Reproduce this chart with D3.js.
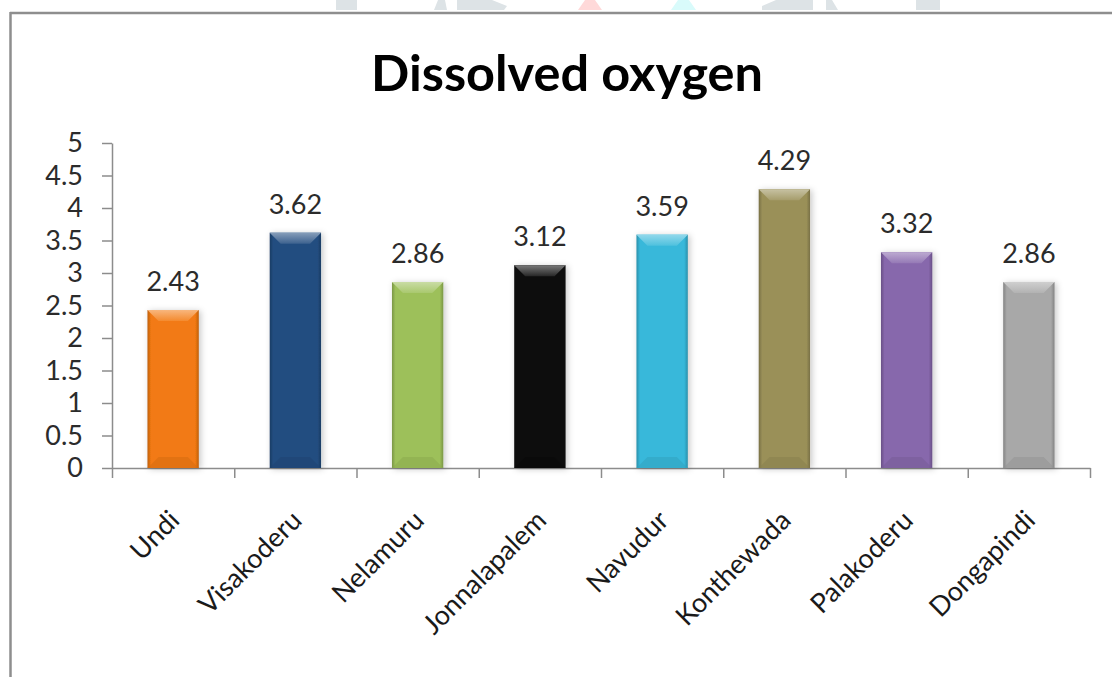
<!DOCTYPE html>
<html>
<head>
<meta charset="utf-8">
<script src="https://cdn.jsdelivr.net/npm/d3@7"></script>
<style>
  html, body { margin: 0; padding: 0; background: #fff; }
  svg { display: block; }
  text { font-family: Lato, "Open Sans", sans-serif; }
</style>
</head>
<body>
<svg id="chart" width="1112" height="677"></svg>
<script>
// Dissolved oxygen by sampling station
const categories = ["Undi", "Visakoderu", "Nelamuru", "Jonnalapalem", "Navudur", "Konthewada", "Palakoderu", "Dongapindi"];
const values = [2.43, 3.62, 2.86, 3.12, 3.59, 4.29, 3.32, 2.86];
const barColors = ["#F27A12", "#234D80", "#9DC05A", "#0B0B0B", "#37B8DA", "#9A9058", "#8767AC", "#A8A8A8"];
const yTicks = [0, 0.5, 1, 1.5, 2, 2.5, 3, 3.5, 4, 4.5, 5];
const title = "Dissolved oxygen";

const svg = d3.select("#chart");
const W = 1112, H = 677;
const plot = { left: 112, right: 1090, top: 143, bottom: 468 };

svg.append("rect").attr("width", W).attr("height", H).attr("fill", "#fff");

// faint logo fragments peeking above the frame
const logoBits = [
  { pts: [[336,0],[357,0],[357,10],[336,10]], fill: "#DDE3E6" },
  { pts: [[438,0],[445,0],[447,10],[434,10]], fill: "#DDE3E6" },
  { pts: [[457,0],[492,0],[507,6],[504,10],[457,10]], fill: "#DDE3E6" },
  { pts: [[585,0],[595,0],[602,10],[578,10]], fill: "#FFD9D9" },
  { pts: [[678,0],[689,0],[696,10],[671,10]], fill: "#D9FBFB" },
  { pts: [[776,0],[813,0],[813,10],[762,10],[762,6]], fill: "#DDE3E6" },
  { pts: [[826,0],[832,0],[838,10],[826,10]], fill: "#DDE3E6" },
  { pts: [[916,0],[940,0],[940,10],[916,10]], fill: "#DDE3E6" }
];
svg.append("g").selectAll("polygon").data(logoBits).join("polygon")
  .attr("points", d => d.pts.map(p => p.join(",")).join(" "))
  .attr("fill", d => d.fill);

// chart frame (top and left edges visible)
svg.append("line").attr("x1", 10).attr("x2", W).attr("y1", 13).attr("y2", 13)
  .attr("stroke", "#8E8E8E").attr("stroke-width", 2.5);
svg.append("line").attr("x1", 10.5).attr("x2", 10.5).attr("y1", 12).attr("y2", H)
  .attr("stroke", "#8E8E8E").attr("stroke-width", 2.5);

// title
svg.append("text")
  .attr("x", 567).attr("y", 91)
  .attr("text-anchor", "middle")
  .attr("font-size", 50).attr("font-weight", 700).attr("fill", "#000")
  .attr("textLength", 392).attr("lengthAdjust", "spacingAndGlyphs")
  .text(title);

const x = d3.scaleBand().domain(categories).range([plot.left, plot.right])
  .paddingInner(0.58).paddingOuter(0.29);
const y = d3.scaleLinear().domain([0, 5]).range([plot.bottom, plot.top]);
const xEdges = d3.scaleLinear().domain([0, categories.length]).range([plot.left, plot.right]);

const defs = svg.append("defs");
const shadow = defs.append("filter").attr("id", "barShadow")
  .attr("x", "-30%").attr("y", "-10%").attr("width", "160%").attr("height", "125%");
shadow.append("feDropShadow").attr("dx", 2).attr("dy", 1).attr("stdDeviation", 3)
  .attr("flood-color", "#000").attr("flood-opacity", 0.22);

barColors.forEach((c, i) => {
  const base = d3.color(c);
  const edge = base.darker(0.7);
  const g = defs.append("linearGradient").attr("id", "side" + i)
    .attr("x1", 0).attr("x2", 1).attr("y1", 0).attr("y2", 0);
  [[0, edge], [0.07, base], [0.93, base], [1, edge]].forEach(([o, col]) =>
    g.append("stop").attr("offset", o).attr("stop-color", col.formatHex()));
  const t = defs.append("linearGradient").attr("id", "top" + i)
    .attr("x1", 0).attr("x2", 0).attr("y1", 0).attr("y2", 1);
  t.append("stop").attr("offset", 0).attr("stop-color", d3.interpolateRgb(c, "#fff")(0.45));
  t.append("stop").attr("offset", 1).attr("stop-color", d3.interpolateRgb(c, "#fff")(0.12));
});

// axes
const yAxis = svg.append("g").attr("transform", `translate(${plot.left},0)`)
  .call(d3.axisLeft(y).tickValues(yTicks).tickSize(10).tickPadding(19).tickSizeOuter(0)
    .tickFormat(d => String(d)));
yAxis.select(".domain").attr("stroke", "#8C8C8C").attr("stroke-width", 1.5);
yAxis.selectAll(".tick line").attr("stroke", "#8C8C8C").attr("stroke-width", 1.5);
yAxis.selectAll(".tick text").attr("font-size", 27).attr("fill", "#2b2b2b")
  .attr("font-family", "Lato, sans-serif");

const xAxis = svg.append("g").attr("transform", `translate(0,${plot.bottom})`)
  .call(d3.axisBottom(xEdges).tickValues(d3.range(categories.length + 1)).tickSize(10)
    .tickSizeOuter(0).tickFormat(""));
xAxis.select(".domain").attr("stroke", "#8C8C8C").attr("stroke-width", 1.5);
xAxis.selectAll(".tick line").attr("stroke", "#8C8C8C").attr("stroke-width", 1.5);

// bars with bevelled tops
const bevel = 11;
const bars = svg.append("g").selectAll("g.bar")
  .data(categories.map((k, i) => ({ k, v: values[i], i })))
  .join("g").attr("class", "bar");

bars.append("rect")
  .attr("x", d => x(d.k)).attr("y", d => y(d.v))
  .attr("width", x.bandwidth()).attr("height", d => y(0) - y(d.v))
  .attr("fill", d => `url(#side${d.i})`)
  .attr("filter", "url(#barShadow)");

bars.append("polygon")
  .attr("points", d => {
    const x0 = x(d.k), x1 = x0 + x.bandwidth(), t = y(d.v);
    return [[x0, t], [x1, t], [x1 - bevel, t + bevel], [x0 + bevel, t + bevel]].map(p => p.join(",")).join(" ");
  })
  .attr("fill", d => `url(#top${d.i})`);

bars.append("polygon")
  .attr("points", d => {
    const x0 = x(d.k), x1 = x0 + x.bandwidth(), b = y(0);
    return [[x0, b], [x1, b], [x1 - bevel, b - bevel], [x0 + bevel, b - bevel]].map(p => p.join(",")).join(" ");
  })
  .attr("fill", d => d3.color(barColors[d.i]).darker(0.35).formatHex())
  .attr("opacity", 0.55);

// value labels
bars.append("text")
  .attr("x", d => x(d.k) + x.bandwidth() / 2)
  .attr("y", d => y(d.v) - 19)
  .attr("text-anchor", "middle")
  .attr("font-size", 27).attr("fill", "#2b2b2b")
  .text(d => d.v.toFixed(2));

// rotated category labels
svg.append("g").selectAll("text").data(categories).join("text")
  .attr("transform", d => `translate(${x(d) + x.bandwidth() / 2 + 8},${plot.bottom + 54}) rotate(-45)`)
  .attr("text-anchor", "end")
  .attr("font-size", 27).attr("fill", "#1a1a1a")
  .text(d => d);
</script>
</body>
</html>
